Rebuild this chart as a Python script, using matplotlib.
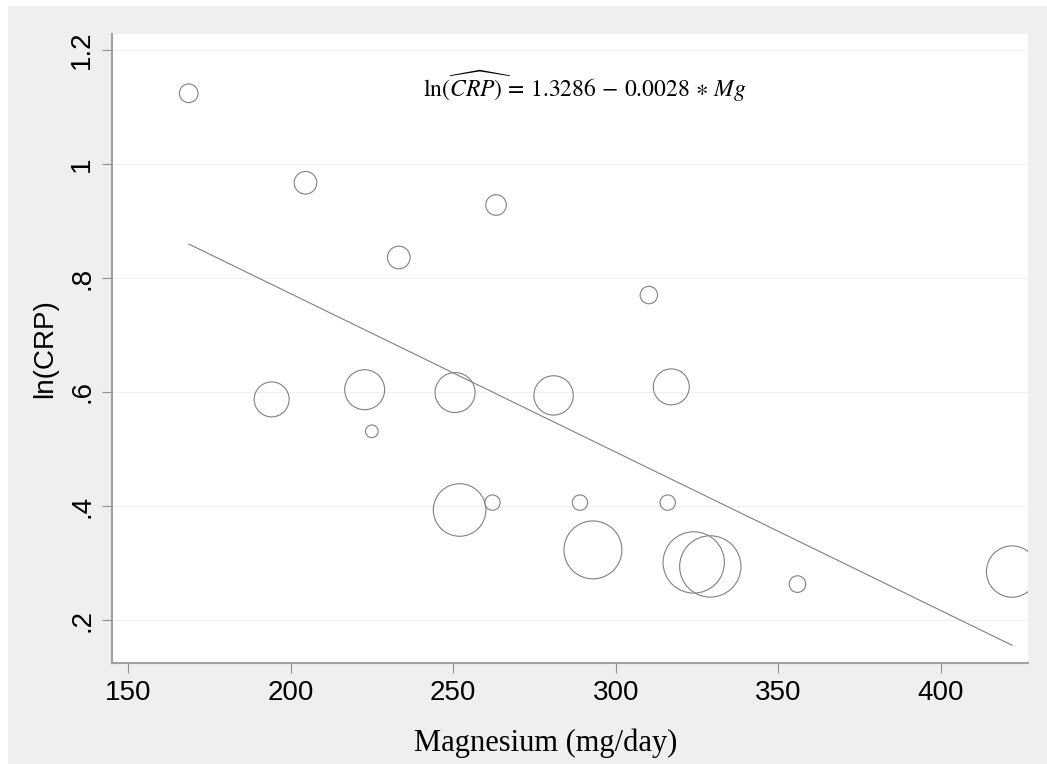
import matplotlib.pyplot as plt
from matplotlib.patches import Rectangle

# --- data ---
mg = [168.7, 204.6, 263.2, 233.3, 310.2, 194.2, 222.8, 250.6, 280.9, 317.1,
      225.0, 262.1, 289.0, 316.0, 252.0, 293.0, 324.0, 329.1, 355.9, 421.9]
ln_crp = [1.124, 0.967, 0.928, 0.836, 0.770, 0.587, 0.604, 0.599, 0.594, 0.609,
          0.531, 0.406, 0.406, 0.406, 0.393, 0.323, 0.301, 0.294, 0.263, 0.285]
weight = [0.87, 1.28, 1.06, 1.28, 0.76, 3.06, 4.00, 4.00, 3.88, 3.24,
          0.40, 0.59, 0.59, 0.59, 6.92, 8.41, 9.42, 9.42, 0.69, 6.60]

intercept = 1.3286
slope = -0.00278

x_ticks = [150, 200, 250, 300, 350, 400]
y_ticks = [0.2, 0.4, 0.6, 0.8, 1.0, 1.2]
y_ticklabels = [".2", ".4", ".6", ".8", "1", "1.2"]

plt.rcParams['mathtext.fontset'] = 'stix'

fig = plt.figure(figsize=(10.47, 7.64), dpi=100, facecolor='white')
bg = '#efefef'
fig.patches.append(Rectangle((8 / 1047, 0), 1, 1 - 6 / 764, transform=fig.transFigure,
                             facecolor=bg, edgecolor='none', zorder=-10))

ax = fig.add_axes([112 / 1047, 1 - 663 / 764, (1028 - 112) / 1047, (663 - 34) / 764])
ax.set_facecolor('white')

# bubbles, area proportional to weight
ax.scatter(mg, ln_crp, s=[w * 207 for w in weight], facecolors='none',
           edgecolors='#808080', linewidths=0.8, zorder=3)

# fitted line
x0, x1 = min(mg), max(mg)
ax.plot([x0, x1], [intercept + slope * x0, intercept + slope * x1],
        color='#808080', linewidth=0.8, zorder=2)

ax.set_xlim(145.1, 426.8)
ax.set_ylim(0.1246, 1.228)

ax.set_xticks(x_ticks)
ax.set_yticks(y_ticks)
ax.set_yticklabels(y_ticklabels, rotation=90, va='center')
ax.tick_params(axis='both', direction='out', length=7, width=0.8, color='#909090',
               labelsize=20, pad=5)
for lab in ax.get_xticklabels() + ax.get_yticklabels():
    lab.set_family('Liberation Sans')

ax.grid(axis='y', color='#f0f0f0', linewidth=0.8)
ax.set_axisbelow(True)

for side in ['top', 'right']:
    ax.spines[side].set_visible(False)
for side in ['left', 'bottom']:
    ax.spines[side].set_color('#a0a0a0')
    ax.spines[side].set_linewidth(1.5)

ax.set_ylabel("ln(CRP)", fontsize=20, family='Liberation Sans', labelpad=8)
fig.text(546 / 1047, 1 - 743 / 764, "Magnesium (mg/day)", fontsize=22,
         family='Liberation Serif', ha='center', va='center')

ax.text(585 / 1047, 1 - 86 / 764,
        r'$\mathrm{ln}\widehat{(CRP)}\,=\,1.3286\,-\,0.0028\,\ast\,Mg$',
        transform=fig.transFigure, fontsize=17, ha='center', va='center')

fig.savefig("out.png", dpi=100, facecolor='white')
